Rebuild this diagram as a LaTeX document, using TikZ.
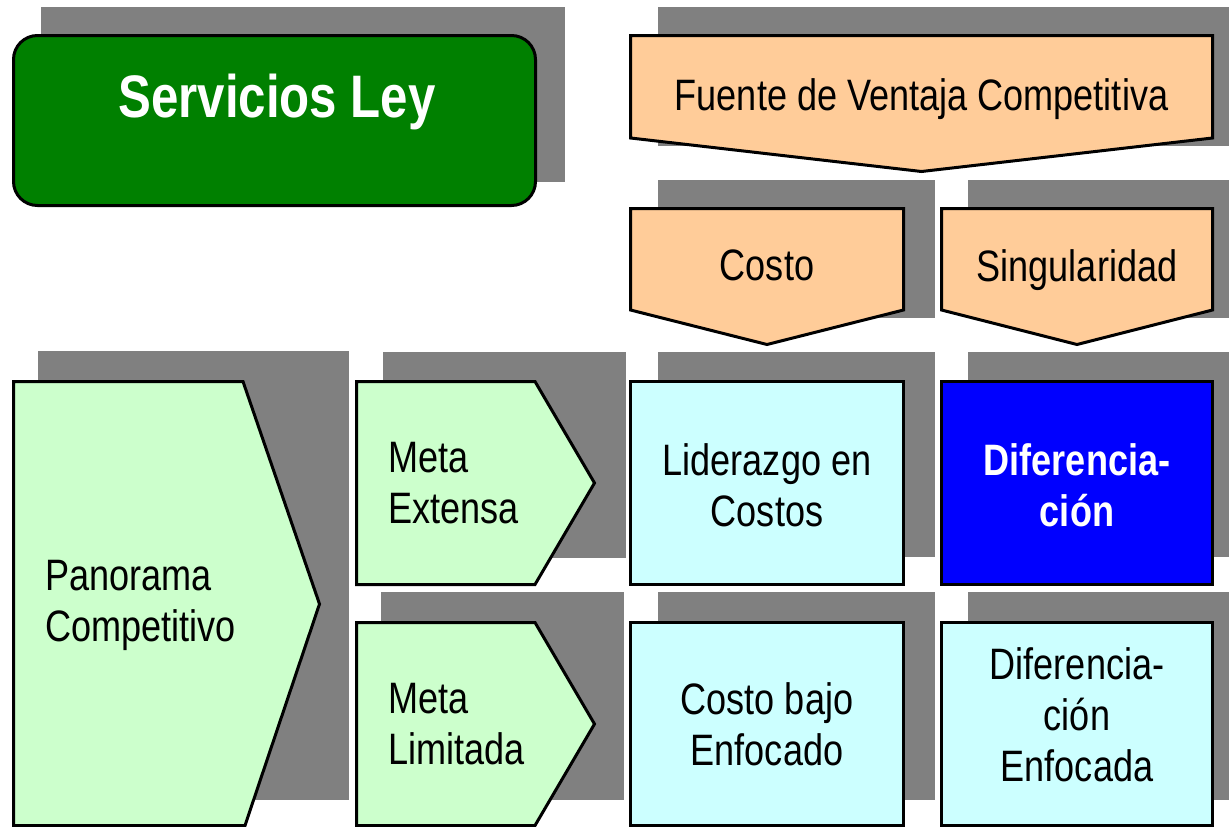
\documentclass[tikz,border=0pt]{standalone}
\usepackage{fontspec}
\setmainfont{Liberation Sans}[FakeStretch=0.82]
\definecolor{shadowgray}{RGB}{128,128,128}
\definecolor{leygreen}{RGB}{0,128,0}
\definecolor{peach}{RGB}{255,204,153}
\definecolor{palegreen}{RGB}{204,255,204}
\definecolor{palecyan}{RGB}{204,255,255}
\definecolor{deepblue}{RGB}{0,0,255}
\begin{document}
\begin{tikzpicture}[x=1pt,y=-1pt,
  shadowbox/.style={fill=shadowgray,draw=none},
  shapeline/.style={draw=black,line width=3pt},
  txt/.style={font=\fontsize{44}{51}\selectfont,inner sep=0pt,anchor=north,align=center,yshift=-2pt},
  txtleft/.style={txt,anchor=north west,align=left},
  title/.style={font=\fontsize{60}{66}\selectfont\bfseries,text=white,inner sep=0pt,anchor=base}]
\useasboundingbox (0,0) rectangle (1229,827);
% shadows
\fill[shadowbox] (41,7) rectangle (565,182);
\fill[shadowbox] (658,7) rectangle (1229,146);
\fill[shadowbox] (658,180) rectangle (935,318);
\fill[shadowbox] (968,180) rectangle (1229,318);
\fill[shadowbox] (38,351) rectangle (349,800);
\fill[shadowbox] (383,352) rectangle (626,558);
\fill[shadowbox] (381,592) rectangle (624,800);
\fill[shadowbox] (658,352) rectangle (935,557);
\fill[shadowbox] (968,352) rectangle (1229,557);
\fill[shadowbox] (658,592) rectangle (935,800);
\fill[shadowbox] (968,592) rectangle (1229,800);
% shapes
\draw[shapeline,fill=leygreen,rounded corners=24pt] (13.5,35.5) rectangle (535.5,205.5);
\draw[shapeline,fill=peach] (630.5,35.5) -- (1212.5,35.5) -- (1212.5,138) -- (921.5,171.5) -- (630.5,138) -- cycle;
\draw[shapeline,fill=peach] (630.5,208.5) -- (903.5,208.5) -- (903.5,310) -- (767,344.5) -- (630.5,310) -- cycle;
\draw[shapeline,fill=peach] (941.5,208.5) -- (1212.5,208.5) -- (1212.5,310) -- (1077,344.5) -- (941.5,310) -- cycle;
\draw[shapeline,fill=palegreen] (13.5,381.5) -- (243,381.5) -- (319.5,604) -- (245,825.5) -- (13.5,825.5) -- cycle;
\draw[shapeline,fill=palegreen] (356.5,381.5) -- (535,381.5) -- (594.5,483) -- (535,584.5) -- (356.5,584.5) -- cycle;
\draw[shapeline,fill=palegreen] (356.5,622.5) -- (535,622.5) -- (594.5,724) -- (535,825.5) -- (356.5,825.5) -- cycle;
\draw[shapeline,fill=palecyan] (630.5,381.5) rectangle (903.5,584.5);
\draw[shapeline,fill=deepblue] (941.5,381.5) rectangle (1212.5,584.5);
\draw[shapeline,fill=palecyan] (630.5,622.5) rectangle (903.5,825.5);
\draw[shapeline,fill=palecyan] (941.5,622.5) rectangle (1212.5,825.5);
% texts
\node[title] (ley) at (277,117) {Servicios Ley};
\node[txt] (fuente) at (921.5,76) {Fuente de Ventaja Competitiva};
\node[txt] (costo) at (767,248) {Costo};
\node[txt] (singular) at (1077,247) {Singularidad};
\node[txtleft] (panorama) at (45,558) {Panorama\\Competitivo};
\node[txtleft] (extensa) at (388,440) {Meta\\Extensa};
\node[txtleft] (limitada) at (388,681) {Meta\\Limitada};
\node[txt] (liderazgo) at (767,441) {Liderazgo en\\Costos};
\node[txt,font=\fontsize{44}{51}\selectfont\bfseries,text=white] (difer) at (1077,441) {Diferencia-\\ción};
\node[txt] (bajo) at (767,680) {Costo bajo\\Enfocado};
\node[txt] (enfocada) at (1077,645) {Diferencia-\\ción\\Enfocada};
\end{tikzpicture}
\end{document}
